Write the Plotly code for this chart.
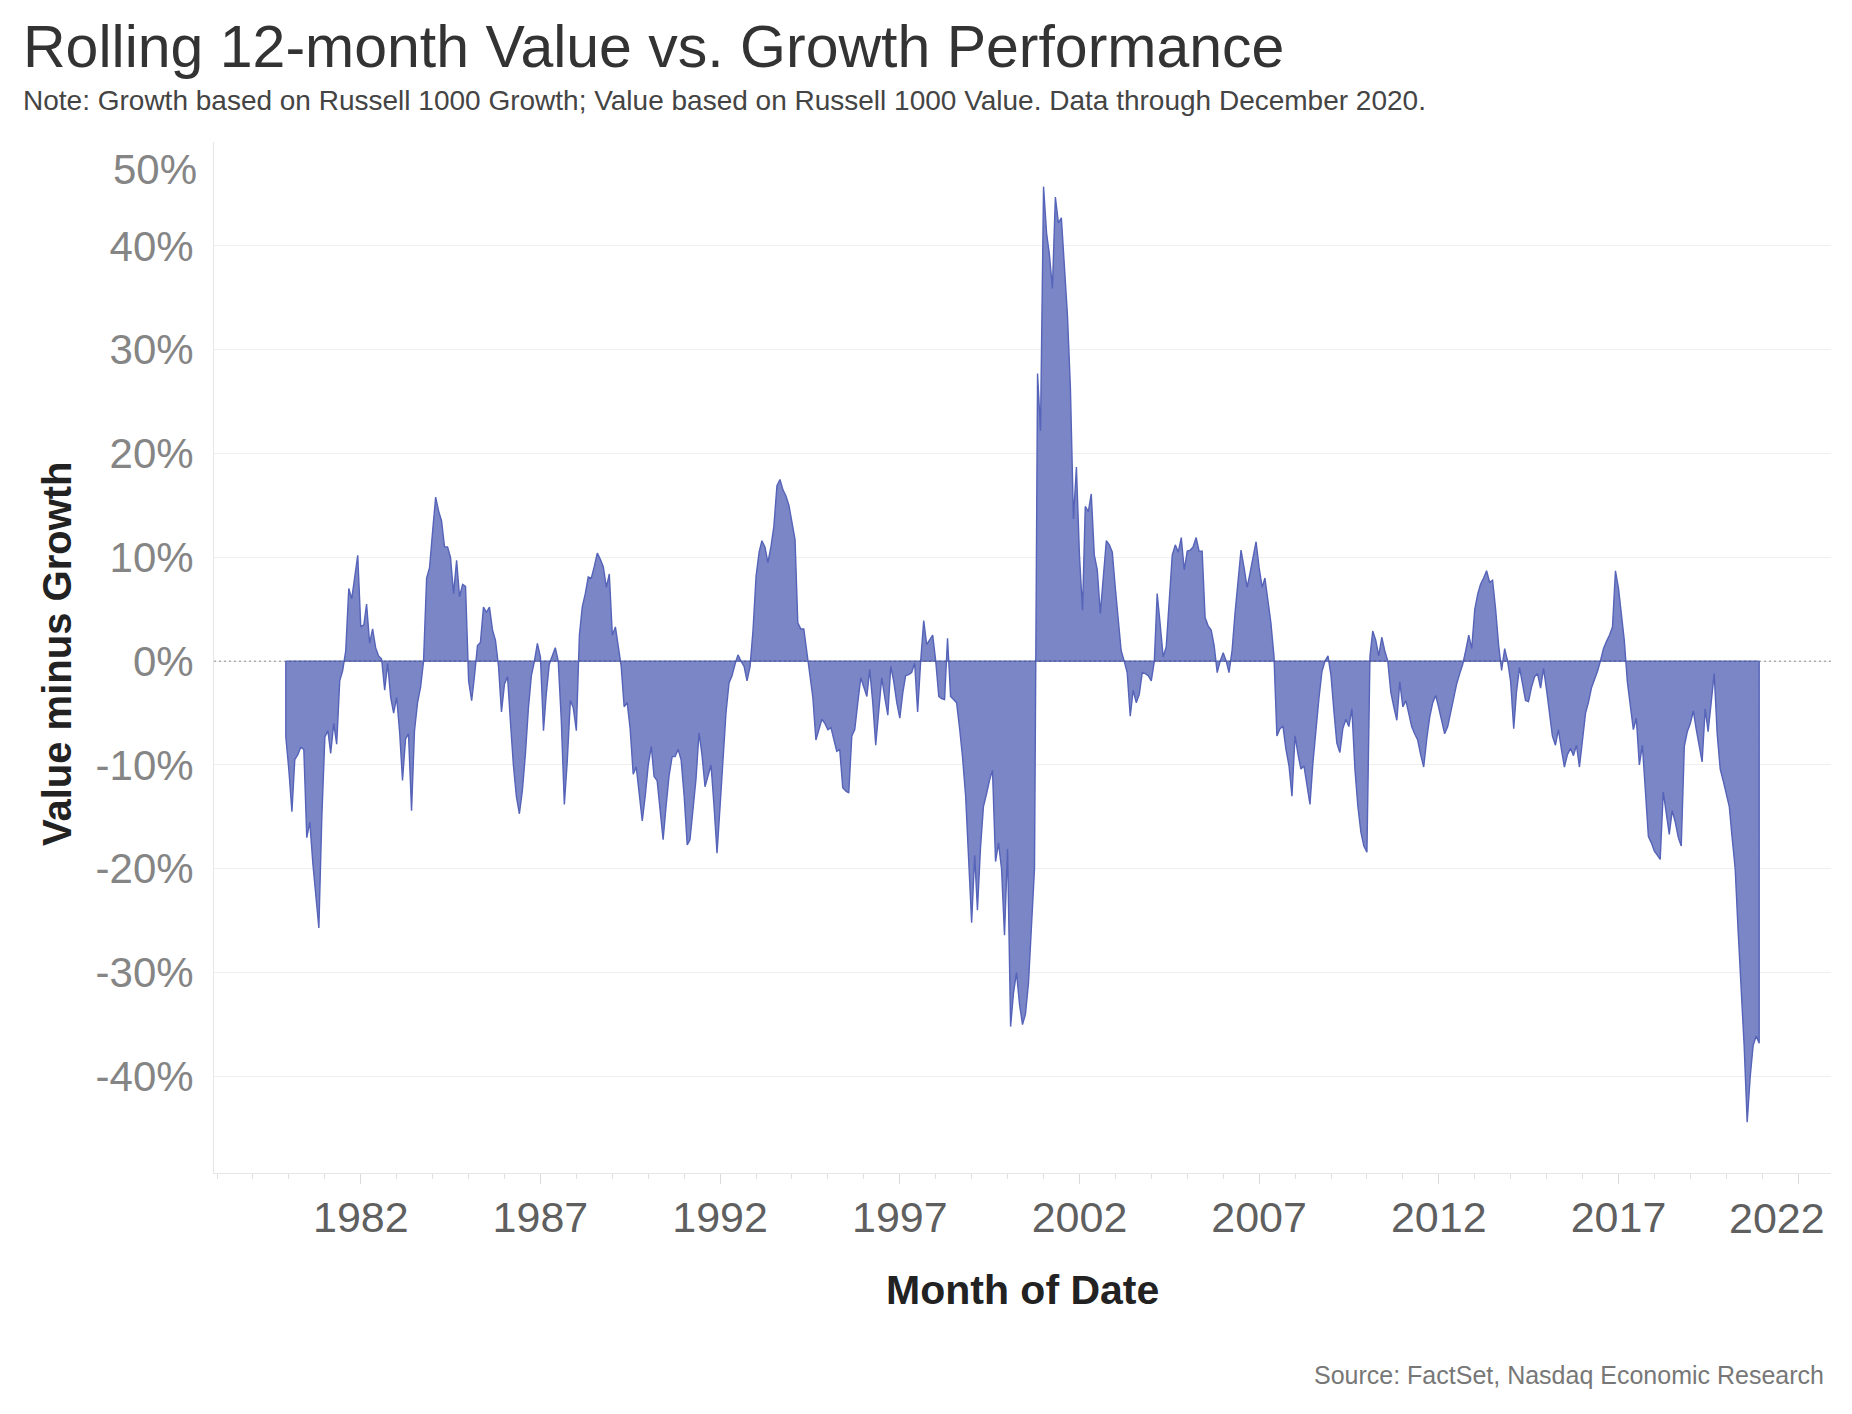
import pandas as pd
import plotly.graph_objects as go

# ---------------- data (percent, value minus growth, rolling 12-month) ----------------
start_month = "1979-12-01"
v1979 = [-7.3]
v1980 = [-10.5, -14.5, -9.5, -9, -8.3, -8.5, -17, -15.5, -19.5, -22.5, -25.7, -15]
v1981 = [-7.3, -6.7, -8.9, -6, -8, -1.9, -0.9, 1, 7, 6, 8, 10.2]
v1982 = [3.3, 3.5, 5.5, 1.7, 3.1, 1.3, 0.5, 0.2, -2.8, -0.2, -3.5, -5]
v1983 = [-3.5, -7, -11.5, -7.5, -7, -14.4, -6.7, -4, -2.5, 0, 8, 9]
v1984 = [12.5, 15.8, 14.5, 13.5, 11, 11, 10, 6.5, 9.7, 6.2, 7.4, 7.2]
v1985 = [-1.9, -3.8, -1.5, 1.5, 1.8, 5.2, 4.7, 5.2, 3, 2, -0.5, -4.9]
v1986 = [-2.2, -1.5, -5.7, -10, -13, -14.7, -12.5, -9, -4.5, -1.4, 0, 1.7]
v1987 = [0.4, -6.7, -3.2, -0.3, 0.5, 1.3, 0, -5.7, -13.8, -9.6, -3.8, -4.5]
v1988 = [-6.7, 2.5, 5.2, 6.5, 8.1, 8, 9.1, 10.4, 9.8, 9.1, 7.1, 8.4]
v1989 = [2.5, 3.3, 1.5, -0.5, -4.4, -4, -6.5, -10.9, -10.2, -12.5, -15.4, -13]
v1990 = [-10, -8.2, -11.1, -11.5, -14, -17.2, -14, -11, -9.2, -9.2, -8.5, -9.5]
v1991 = [-13, -17.7, -17.2, -14, -11.4, -6.9, -9, -12.1, -11, -10, -14, -18.5]
v1992 = [-14, -9.5, -5, -2.1, -1.4, -0.3, 0.6, 0, -0.5, -1.9, -0.5, 3]
v1993 = [8.2, 10.5, 11.6, 11, 9.5, 11, 13, 16.9, 17.5, 16.5, 15.9, 15]
v1994 = [13.5, 11.7, 3.7, 3.1, 3.1, 1, -1.5, -3.5, -7.6, -6.5, -5.6, -6]
v1995 = [-6.6, -6.4, -7.5, -8.7, -8.5, -12.2, -12.5, -12.7, -7.2, -6.6, -4, -1.6]
v1996 = [-2.5, -3.4, -0.8, -4, -8.1, -5, -1.6, -3.5, -5.2, -0.5, -2, -4]
v1997 = [-5.5, -3, -1.4, -1.3, -1.1, -0.2, -4.9, 0, 3.9, 1.6, 2, 2.5]
v1998 = [0, -3.4, -3.6, -3.7, 2.2, -3.4, -3.7, -4, -6.5, -9.3, -13, -19]
v1999 = [-25.2, -18.7, -24, -18, -14, -12.8, -11.5, -10.5, -19.3, -17.5, -20, -26.4]
v2000 = [-18.1, -35.2, -32, -30, -33, -35, -34, -31, -25, -20, 27.7, 22.2]
v2001 = [45.7, 41.2, 39.2, 35.9, 44.7, 42.2, 42.7, 38, 33.3, 26.3, 13.7, 18.7]
v2002 = [10.2, 4.9, 14.9, 14.4, 16.1, 10.2, 8.8, 4.6, 8, 11.6, 11.2, 10.5]
v2003 = [7, 3.5, 1, 0, -1.1, -5.3, -2.8, -4, -3.2, -1.1, -1.2, -1.4]
v2004 = [-1.9, 0, 6.5, 3.5, 0.4, 1.4, 6, 10.2, 11.2, 10.5, 11.9, 8.8]
v2005 = [10.6, 10.7, 11, 11.9, 10.6, 10.6, 4.2, 3.4, 3, 1.5, -1.1, 0]
v2006 = [0.8, 0, -1.1, 1, 4.6, 7.5, 10.7, 9, 7.1, 8.5, 10.1, 11.5]
v2007 = [9, 7.1, 8, 6, 3.7, 0.5, -7.2, -6.5, -6.3, -8.5, -10.1, -13]
v2008 = [-7.2, -9, -10.4, -10.1, -12, -13.8, -9.8, -6.5, -3.5, -1, 0, 0.5]
v2009 = [-1.4, -5, -7.9, -8.8, -6.5, -5.6, -6.3, -4.6, -10.4, -14, -16.5, -17.8]
v2010 = [-18.4, 0.5, 2.9, 2, 0.5, 2.3, 1, 0, -3, -4.4, -5.7, -2]
v2011 = [-4.4, -3.8, -5, -6.3, -7, -7.6, -9, -10.2, -7.5, -5.4, -4, -3.3]
v2012 = [-4.5, -5.8, -7, -6.3, -5, -3.5, -2.2, -1.2, -0.3, 1, 2.5, 1.2]
v2013 = [5, 6.5, 7.4, 8, 8.7, 7.6, 7.8, 5, 1.5, -0.9, 1.2, 0]
v2014 = [-2, -6.5, -3, -0.6, -2, -3.8, -3.9, -2.5, -1.5, -1.2, -2.6, -0.7]
v2015 = [-2.8, -5, -7.2, -8.1, -6.6, -8.5, -10.2, -9, -8.4, -9.1, -8.1, -10.2]
v2016 = [-7.5, -5, -4, -2.6, -1.8, -1, 0, 1.2, 1.9, 2.5, 3.3, 8.7]
v2017 = [7, 4, 2, -2, -4.3, -6.6, -5.5, -10, -8.1, -12.5, -16.9, -17.5]
v2018 = [-18.3, -18.7, -19.1, -12.6, -14.5, -16.7, -14.4, -15.5, -17, -17.8, -8.2, -6.8]
v2019 = [-6, -4.8, -6.5, -8, -9.7, -4.6, -6.8, -4, -1.2, -7, -10.4, -11.5]
v2020 = [-12.7, -14, -17, -20, -26, -31, -37, -44.4, -40, -37, -36.1, -36.8]

yearly_blocks = [v1979, v1980, v1981, v1982, v1983, v1984, v1985, v1986, v1987, v1988,
                 v1989, v1990, v1991, v1992, v1993, v1994, v1995, v1996, v1997, v1998,
                 v1999, v2000, v2001, v2002, v2003, v2004, v2005, v2006, v2007, v2008,
                 v2009, v2010, v2011, v2012, v2013, v2014, v2015, v2016, v2017, v2018,
                 v2019, v2020]
values = [v for block in yearly_blocks for v in block]
dates = list(pd.date_range(start_month, periods=len(values), freq="MS"))

x_tick_years = [1982, 1987, 1992, 1997, 2002, 2007, 2012, 2017, 2022]
y_tick_values = [-40, -30, -20, -10, 0, 10, 20, 30, 40, 50]

# ---------------- styling ----------------
FONT = "Liberation Sans, Arial, sans-serif"
FILL = "#7b86c6"
LINE = "#5563b8"
W, H = 1852, 1414
L, R, T, B = 214, 21, 142, 241
PW, PH = W - L - R, H - T - B


def px_x(px):
    return (px - L) / PW


def px_y(py):
    return (H - B - py) / PH


fig = go.Figure()

# area polygon closed to the zero baseline
fig.add_trace(go.Scatter(
    x=[dates[0]] + dates + [dates[-1]],
    y=[0] + values + [0],
    mode="lines",
    fill="toself",
    fillcolor=FILL,
    line=dict(color=LINE, width=1.4),
    hoverinfo="skip",
    showlegend=False,
))
# baseline edge of the area
fig.add_trace(go.Scatter(
    x=[dates[0], dates[-1]], y=[0, 0], mode="lines",
    line=dict(color=LINE, width=1.2), hoverinfo="skip", showlegend=False,
))

fig.update_layout(
    width=W, height=H,
    margin=dict(l=L, r=R, t=T, b=B, pad=0),
    paper_bgcolor="white", plot_bgcolor="white",
    font=dict(family=FONT, color="#333"),
    showlegend=False,
)

fig.update_xaxes(
    type="date",
    range=["1977-12-01", "2022-12-01"],
    tickmode="array",
    tickvals=[f"{y}-01-01" for y in x_tick_years],
    ticktext=[str(y) if y != 2022 else "" for y in x_tick_years],
    ticks="outside", ticklen=10, tickwidth=1, tickcolor="#d9d9d9",
    tickfont=dict(family=FONT, size=43, color="#5f5f5f"),
    ticklabelstandoff=-4,
    minor=dict(ticks="outside", ticklen=5, tickwidth=1, tickcolor="#e0e0e0",
               tickmode="linear", tick0="1978-01-01", dtick="M12", showgrid=False),
    showline=True, linecolor="#e6e6e6", linewidth=1,
    showgrid=False, zeroline=False,
)
fig.update_yaxes(
    range=[-49.3, 50],
    tickmode="array",
    tickvals=y_tick_values,
    ticktext=[f"{v}%" if v != 50 else "" for v in y_tick_values],
    ticks="",
    tickfont=dict(family=FONT, size=42, color="#858585"),
    ticklabelstandoff=11,
    showline=True, linecolor="#e6e6e6", linewidth=1,
    showgrid=True, gridcolor="#efefef", gridwidth=1,
    zeroline=False,
)

# dotted zero reference line
fig.add_shape(type="line", xref="paper", x0=0, x1=1, yref="y", y0=0, y1=0,
              line=dict(color="rgba(60,60,80,0.38)", width=1.5, dash="2px,3px"),
              layer="above")

ann = []
ann.append(dict(text="Rolling 12-month Value vs. Growth Performance",
                x=px_x(21), y=px_y(47), xanchor="left", yanchor="middle",
                font=dict(family=FONT, size=59, color="#333333")))
ann.append(dict(text="Note: Growth based on Russell 1000 Growth; Value based on Russell 1000 Value. Data through December 2020.",
                x=px_x(21), y=px_y(101), xanchor="left", yanchor="middle",
                font=dict(family=FONT, size=28, color="#444444")))
ann.append(dict(text="<b>Value minus Growth</b>", textangle=-90,
                x=px_x(57), y=px_y(654), xanchor="center", yanchor="middle",
                font=dict(family=FONT, size=40, color="#222222")))
ann.append(dict(text="<b>Month of Date</b>",
                x=px_x(1023), y=px_y(1290), xanchor="center", yanchor="middle",
                font=dict(family=FONT, size=41, color="#222222")))
ann.append(dict(text="Source: FactSet, Nasdaq Economic Research",
                x=px_x(1826), y=px_y(1375), xanchor="right", yanchor="middle",
                font=dict(family=FONT, size=25, color="#777777")))
# edge tick labels shifted inward (as in the original)
ann.append(dict(text="2022", x=px_x(1827), y=px_y(1218), xanchor="right", yanchor="middle",
                font=dict(family=FONT, size=43, color="#5f5f5f")))
ann.append(dict(text="50%", x=px_x(199), y=px_y(170), xanchor="right", yanchor="middle",
                font=dict(family=FONT, size=42, color="#858585")))
for a in ann:
    a.update(xref="paper", yref="paper", showarrow=False)
fig.update_layout(annotations=ann)

fig.write_html("out.html", config={"displayModeBar": False},
               post_script="document.body.style.margin='0';document.body.style.overflow='hidden';")
